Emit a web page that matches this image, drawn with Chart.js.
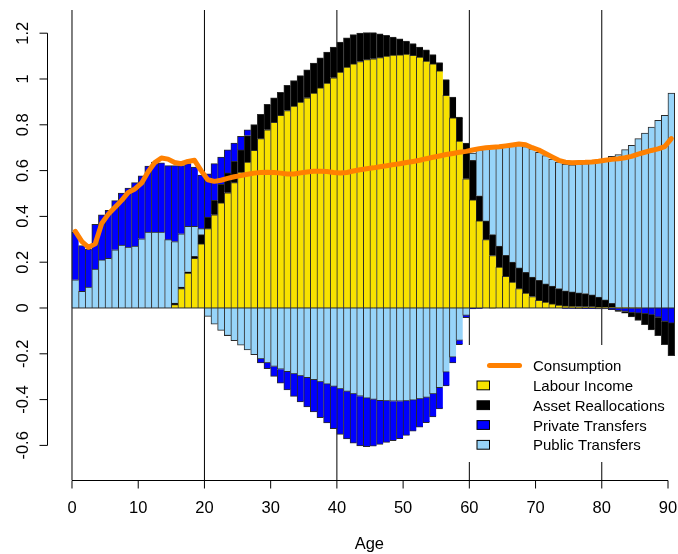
<!DOCTYPE html>
<html>
<head>
<meta charset="utf-8">
<script src="https://cdn.jsdelivr.net/npm/chart.js@4.4.1/dist/chart.umd.min.js"></script>
<style>
  html, body { margin: 0; padding: 0; background: #fff; }
  #wrap { width: 678px; height: 554px; }
  canvas { display: block; }
</style>
</head>
<body>
<div id="wrap"><canvas id="c" width="678" height="554" aria-label="NTA flows by age"></canvas></div>
<script>
// ---------------- data ----------------
const ages = [0,1,2,3,4,5,6,7,8,9,10,11,12,13,14,15,16,17,18,19,20,21,22,23,24,25,26,27,28,29,30,
  31,32,33,34,35,36,37,38,39,40,41,42,43,44,45,46,47,48,49,50,51,52,53,54,55,56,57,58,59,60,
  61,62,63,64,65,66,67,68,69,70,71,72,73,74,75,76,77,78,79,80,81,82,83,84,85,86,87,88,89,90];

const labourIncome = [0,0,0,0,0,0,0,0,0,0,0,0,0,0,0,0.015,0.084,0.152,0.217,0.28,
  0.346,0.407,0.459,0.503,0.547,0.593,0.637,0.688,0.739,0.778,
  0.811,0.841,0.862,0.881,0.899,0.918,0.938,0.961,0.982,1.005,
  1.03,1.052,1.066,1.076,1.084,1.088,1.093,1.1,1.104,1.105,
  1.108,1.103,1.095,1.078,1.066,1.035,0.928,0.83,0.729,0.564,
  0.472,0.38,0.298,0.229,0.178,0.138,0.113,0.084,0.065,0.05,
  0.033,0.025,0.018,0.012,0.009,0.007,0.006,0.005,0.005,0.004,
  0.004,0.003,0.002,0.002,0.001,0.001,0,0,0,0,0];

const assetReallocations = [0,0,0,0,0,0,0,0,0,0,0,0,0,0,0,0.006,0.007,0.006,0.008,0.04,
  0.051,0.063,0.081,0.087,0.093,0.097,0.116,0.113,0.106,0.111,
  0.107,0.101,0.11,0.112,0.116,0.122,0.131,0.131,0.135,0.134,
  0.131,0.128,0.128,0.124,0.118,0.114,0.104,0.09,0.079,0.07,
  0.057,0.051,0.044,0.049,0.04,0.036,0.069,0.091,0.104,0.156,
  0.172,0.11,0.082,0.091,0.092,0.092,0.087,0.091,0.09,0.085,
  0.087,0.08,0.077,0.073,0.066,0.063,0.06,0.058,0.052,0.043,
  0.031,0.017,-0.004,-0.007,-0.019,-0.032,-0.048,-0.065,-0.081,-0.102,-0.142];

const privateTransfers = [0.207,0.199,0.166,0.195,0.197,0.209,0.215,0.227,0.257,0.277,
  0.275,0.288,0.306,0.303,0.324,0.332,0.298,0.274,0.259,0.234,
  0.189,0.16,0.119,0.1,0.08,0.059,0.025,0,-0.018,-0.025,
  -0.043,-0.061,-0.079,-0.098,-0.114,-0.128,-0.141,-0.157,-0.17,-0.185,
  -0.199,-0.207,-0.215,-0.217,-0.212,-0.204,-0.191,-0.181,-0.172,-0.163,
  -0.151,-0.136,-0.123,-0.11,-0.1,-0.092,-0.06,-0.026,-0.019,-0.01,
  -0.004,-0.002,0,0,0,0,0,0,0,0,
  0,0,0,0,-0.002,-0.002,-0.003,-0.003,-0.003,-0.004,
  -0.004,-0.007,-0.011,-0.015,-0.02,-0.022,-0.025,-0.03,-0.04,-0.058,-0.066];

const publicTransfers = [0.123,0.073,0.091,0.17,0.21,0.217,0.254,0.274,0.266,0.27,
  0.302,0.331,0.331,0.331,0.298,0.269,0.233,0.198,0.131,0.026,
  -0.036,-0.07,-0.098,-0.12,-0.142,-0.162,-0.183,-0.203,-0.222,-0.24,
  -0.255,-0.267,-0.278,-0.288,-0.296,-0.304,-0.313,-0.322,-0.332,-0.342,
  -0.353,-0.364,-0.375,-0.385,-0.393,-0.399,-0.404,-0.406,-0.407,-0.407,
  -0.405,-0.402,-0.397,-0.39,-0.375,-0.348,-0.28,-0.214,-0.141,-0.032,
  0.032,0.2,0.315,0.38,0.43,0.475,0.51,0.535,0.55,0.56,
  0.56,0.56,0.555,0.552,0.553,0.555,0.561,0.567,0.576,0.59,
  0.616,0.642,0.668,0.689,0.709,0.738,0.763,0.79,0.819,0.841,0.938];

const consumption = [0.335,0.29,0.265,0.28,0.37,0.41,0.44,0.47,0.505,0.52,
  0.545,0.595,0.635,0.655,0.65,0.635,0.63,0.64,0.645,0.6,
  0.56,0.553,0.558,0.566,0.573,0.578,0.584,0.589,0.592,0.593,
  0.592,0.589,0.585,0.585,0.59,0.594,0.597,0.597,0.596,0.592,
  0.59,0.592,0.598,0.604,0.608,0.612,0.617,0.621,0.626,0.63,
  0.635,0.64,0.645,0.652,0.658,0.664,0.67,0.675,0.68,0.684,
  0.69,0.696,0.7,0.702,0.704,0.708,0.712,0.716,0.713,0.7,
  0.69,0.675,0.66,0.645,0.637,0.634,0.635,0.636,0.638,0.641,
  0.645,0.649,0.652,0.656,0.662,0.672,0.68,0.688,0.695,0.705,0.74];

const xTicks = [0,10,20,30,40,50,60,70,80,90];
const yTicks = [-0.6,-0.4,-0.2,0,0.2,0.4,0.6,0.8,1,1.2];
const yTickLabels = ['-0.6','-0.4','-0.2','0','0.2','0.4','0.6','0.8','1','1.2'];
const refLines = [0,20,40,60,80];
const xTitle = 'Age';
const legendNames = ['Consumption','Labour Income','Asset Reallocations','Private Transfers','Public Transfers'];

// ---------------- styles ----------------
const COL = {
  labour: '#F8E200',
  asset: '#000000',
  priv: '#0000FF',
  pub: '#97D4F9',
  cons: '#FF8000',
  border: '#2a2a2a'
};
const FONT = '"Liberation Sans", Arial, Helvetica, sans-serif';

const toPts = (arr, keep) => ages.map((a, i) => ({ x: a + 0.5, y: keep(arr[i]) ? arr[i] : null }));
const nonZero = v => v !== 0;
const pos = v => v > 0;
const neg = v => v < 0;

const bw = (ctx) => {
  if (!ctx.parsed) return 1;
  const last = ctx.dataIndex === ages.length - 1 ? 1 : 0;
  return ctx.parsed.y >= 0
    ? { top: 1, left: 1, right: last, bottom: 0 }
    : { top: 0, left: 1, right: last, bottom: 1 };
};

const barDs = (label, data, color) => ({
  type: 'bar', label, data, backgroundColor: color, borderColor: COL.border,
  borderWidth: bw, borderSkipped: false, inflateAmount: 0.4,
  barPercentage: 1, categoryPercentage: 1, stack: 'nta', order: 1
});

const datasets = [
  barDs('Labour Income', toPts(labourIncome, nonZero), COL.labour),
  barDs('Asset Reallocations', toPts(assetReallocations, pos), COL.asset),
  barDs('Public Transfers', toPts(publicTransfers, nonZero), COL.pub),
  barDs('Private Transfers', toPts(privateTransfers, nonZero), COL.priv),
  barDs('Asset Reallocations (neg)', toPts(assetReallocations, neg), COL.asset),
  {
    type: 'line', label: 'Consumption',
    data: ages.map((a, i) => ({ x: a + 0.5, y: consumption[i] })),
    borderColor: COL.cons, borderWidth: 5, pointRadius: 0, tension: 0,
    borderCapStyle: 'round', borderJoinStyle: 'round', fill: false,
    stack: 'cons', order: 0, clip: false
  }
];

const rPlugin = {
  id: 'rstyle',
  beforeDatasetsDraw(chart) {
    const { ctx, chartArea: a, scales: { x } } = chart;
    ctx.save();
    ctx.strokeStyle = '#000';
    ctx.lineWidth = 1;
    refLines.forEach(v => {
      const px = x.getPixelForValue(v);
      ctx.beginPath(); ctx.moveTo(px, a.top); ctx.lineTo(px, a.bottom); ctx.stroke();
    });
    ctx.restore();
  },
  afterDatasetsDraw(chart) {
    const { ctx, scales: { x, y } } = chart;
    ctx.save();
    // zero line along the bars
    ctx.strokeStyle = COL.border; ctx.lineWidth = 1;
    ctx.beginPath();
    ctx.moveTo(x.getPixelForValue(ages[0]), y.getPixelForValue(0));
    ctx.lineTo(x.getPixelForValue(ages[ages.length - 1] + 1), y.getPixelForValue(0));
    ctx.stroke();

    // legend (white box, no frame)
    ctx.fillStyle = '#fff';
    ctx.fillRect(466, 345, 200, 117);
    const rowY = i => 365.6 + i * 19.8;
    ctx.strokeStyle = COL.cons; ctx.lineWidth = 5; ctx.lineCap = 'round';
    ctx.beginPath(); ctx.moveTo(489.5, rowY(0)); ctx.lineTo(519.5, rowY(0)); ctx.stroke();
    const fills = [COL.labour, COL.asset, COL.priv, COL.pub];
    ctx.lineWidth = 1; ctx.lineCap = 'butt';
    fills.forEach((c, k) => {
      const cy = rowY(k + 1);
      ctx.fillStyle = c;
      ctx.fillRect(477, cy - 4.4, 12.5, 8.8);
      ctx.strokeStyle = '#000';
      ctx.strokeRect(477, cy - 4.4, 12.5, 8.8);
    });
    ctx.fillStyle = '#000';
    ctx.font = '15px ' + FONT;
    ctx.textAlign = 'left'; ctx.textBaseline = 'alphabetic';
    legendNames.forEach((t, i) => ctx.fillText(t, 533, rowY(i) + 5.6));
    ctx.restore();
  },
  afterDraw(chart) {
    const { ctx, chartArea: a, scales: { x, y } } = chart;
    ctx.save();
    ctx.strokeStyle = '#000'; ctx.lineWidth = 1;
    ctx.fillStyle = '#000';
    const yAx = a.bottom + 0.5;
    ctx.beginPath();
    ctx.moveTo(x.getPixelForValue(xTicks[0]), yAx);
    ctx.lineTo(x.getPixelForValue(xTicks[xTicks.length - 1]), yAx);
    xTicks.forEach(v => {
      const px = x.getPixelForValue(v);
      ctx.moveTo(px, yAx); ctx.lineTo(px, yAx + 8);
    });
    ctx.stroke();
    ctx.font = '16.5px ' + FONT;
    ctx.textAlign = 'center'; ctx.textBaseline = 'alphabetic';
    xTicks.forEach(v => ctx.fillText(String(v), x.getPixelForValue(v), 512.8));
    ctx.fillText(xTitle, (x.getPixelForValue(0) + x.getPixelForValue(91)) / 2 - 4, 549);
    const xAx = a.left + 0.5;
    ctx.beginPath();
    ctx.moveTo(xAx, y.getPixelForValue(yTicks[0]));
    ctx.lineTo(xAx, y.getPixelForValue(yTicks[yTicks.length - 1]));
    yTicks.forEach(v => {
      const py = y.getPixelForValue(v);
      ctx.moveTo(xAx, py); ctx.lineTo(xAx - 8, py);
    });
    ctx.stroke();
    yTicks.forEach((v, i) => {
      ctx.save();
      ctx.translate(27.5, y.getPixelForValue(v));
      ctx.rotate(-Math.PI / 2);
      ctx.textAlign = 'center'; ctx.textBaseline = 'alphabetic';
      ctx.fillText(yTickLabels[i], 0, 0);
      ctx.restore();
    });
    ctx.restore();
  }
};

new Chart(document.getElementById('c'), {
  data: { datasets },
  options: {
    responsive: false,
    devicePixelRatio: 1,
    animation: false,
    layout: { padding: { left: 47, right: 0, top: 10, bottom: 74 } },
    scales: {
      x: { type: 'linear', min: -3.775, max: 91.51, stacked: true, display: false, offset: false },
      y: { type: 'linear', min: -0.7511, max: 1.3013, stacked: true, display: false }
    },
    plugins: { legend: { display: false }, tooltip: { enabled: false }, title: { display: false } }
  },
  plugins: [rPlugin]
});
</script>
</body>
</html>
